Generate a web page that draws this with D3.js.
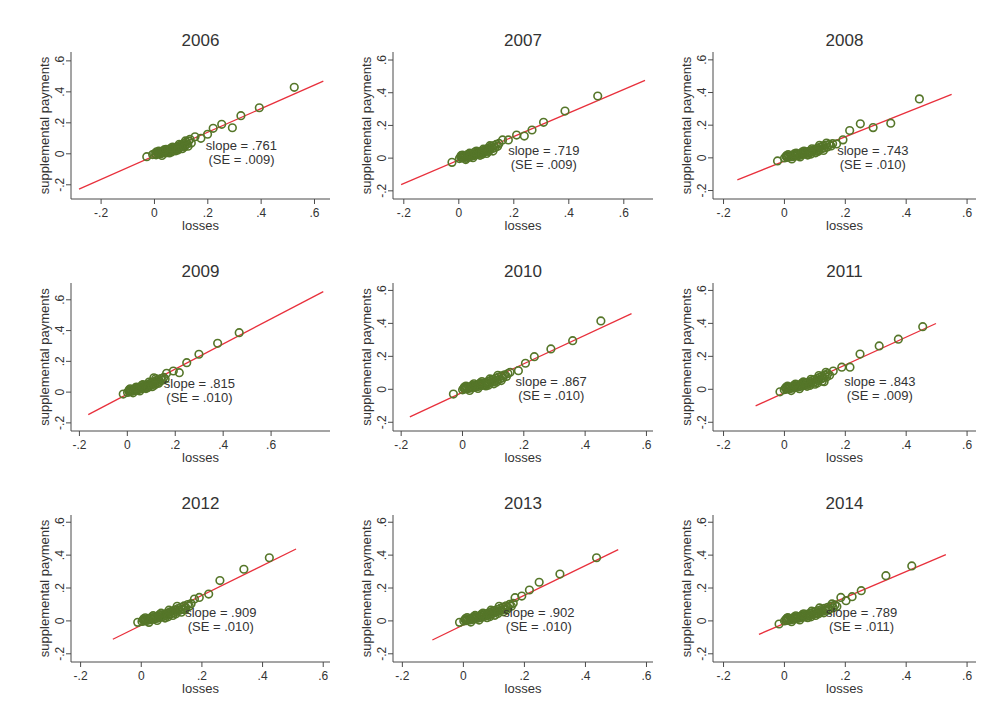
<!DOCTYPE html>
<html>
<head>
<meta charset="utf-8">
<script src="https://cdn.jsdelivr.net/npm/d3@7"></script>
<style>
  html, body { margin: 0; padding: 0; background: #ffffff; }
  svg { display: block; font-family: "Liberation Sans", Arial, sans-serif; }
</style>
</head>
<body>
<svg id="chart" width="995" height="723"></svg>
<script>
// Supplemental payments vs. losses, one panel per year, with fitted line.
const years = ["2006", "2007", "2008", "2009", "2010", "2011", "2012", "2013", "2014"];
const slopes = [0.761, 0.719, 0.743, 0.815, 0.867, 0.843, 0.909, 0.902, 0.789];
const slopeLabels = [".761", ".719", ".743", ".815", ".867", ".843", ".909", ".902", ".789"];
const seLabels = [".009", ".009", ".010", ".010", ".010", ".009", ".010", ".010", ".011"];
const intercepts = [-0.017, -0.016, -0.024, -0.018, -0.023, -0.025, -0.031, -0.029, -0.020];
// x extent of each fitted line
const fitRanges = [[-0.281, 0.635], [-0.208, 0.679], [-0.153, 0.551], [-0.161, 0.820], [-0.170, 0.553],
                   [-0.093, 0.4995], [-0.092, 0.512], [-0.100, 0.509], [-0.082, 0.532]];
// axis ranges per panel
const xDomains = [[-0.311, 0.660], [-0.2375, 0.708], [-0.233, 0.631], [-0.233, 0.848], [-0.225, 0.623],
                  [-0.233, 0.631], [-0.230, 0.624], [-0.229, 0.623], [-0.233, 0.631]];
const yDomains = [[-0.295, 0.654], [-0.253, 0.646], [-0.255, 0.645], [-0.256, 0.706], [-0.256, 0.642],
                  [-0.256, 0.642], [-0.253, 0.641], [-0.253, 0.641], [-0.253, 0.641]];
// where the slope note sits, in data units
const notePos = [[0.328, 0.021], [0.311, 0.016], [0.292, 0.015], [0.303, 0.021], [0.291, 0.017],
                 [0.315, 0.017], [0.264, 0.019], [0.249, 0.019], [0.255, 0.019]];

const tickValues = [-0.2, 0, 0.2, 0.4, 0.6];
const tickLabels = ["-.2", "0", ".2", ".4", ".6"];

// observations (losses, supplemental payments)
const points2006 = [[-0.027,-0.022],[-0.005,-0.008],[0.003,-0.002],[0.008,-0.010],[0.012,0.003],[0.016,-0.004],[0.019,0.006],[0.022,0.001],[0.026,-0.003],[0.029,0.009],[0.033,0.004],[0.036,0.013],[0.040,0.007],[0.043,0.002],[0.046,0.015],[0.050,0.010],[0.053,0.020],[0.056,0.013],[0.060,0.024],[0.063,0.017],[0.066,0.009],[0.069,0.028],[0.072,0.021],[0.076,0.032],[0.079,0.025],[0.083,0.038],[0.086,0.029],[0.089,0.044],[0.093,0.035],[0.097,0.050],[0.100,0.040],[0.104,0.057],[0.108,0.047],[0.112,0.063],[0.117,0.053],[0.121,0.072],[0.125,0.060],[0.130,0.080],[0.135,0.090],[0.140,0.066],
  [0.018,0.014],[0.030,-0.014],[0.045,0.026],[0.058,0.002],[0.070,0.040],[0.082,0.016],[0.095,0.058],[0.106,0.030],[0.118,0.080],[0.128,0.046],[0.010,0.010],[0.038,0.022],[0.064,0.034],[0.090,0.022],[0.114,0.040],
  [0.154,0.107],[0.176,0.097],[0.201,0.123],[0.222,0.161],[0.254,0.187],[0.294,0.165],[0.326,0.243],[0.395,0.294],[0.526,0.426]];
const points2007 = [[-0.023,-0.029],[0.004,-0.006],[0.009,0.004],[0.013,-0.002],[0.017,0.007],[0.021,0.001],[0.025,0.010],[0.028,-0.004],[0.032,0.006],[0.036,0.013],[0.039,0.003],[0.043,0.016],[0.047,0.009],[0.050,0.019],[0.054,0.012],[0.058,0.022],[0.061,0.015],[0.065,0.027],[0.069,0.019],[0.072,0.031],[0.076,0.024],[0.080,0.036],[0.084,0.028],[0.088,0.042],[0.092,0.033],[0.096,0.047],[0.100,0.038],[0.104,0.054],[0.108,0.044],[0.112,0.060],[0.116,0.050],[0.120,0.067],[0.125,0.056],[0.129,0.074],[0.134,0.062],[0.138,0.081],[0.143,0.069],[0.148,0.087],
  [0.015,0.016],[0.027,-0.012],[0.041,0.027],[0.053,0.000],[0.066,0.040],[0.079,0.014],[0.091,0.052],[0.103,0.026],[0.115,0.073],[0.126,0.040],[0.010,0.012],[0.035,0.020],[0.060,0.034],[0.087,0.020],[0.110,0.038],
  [0.161,0.108],[0.182,0.108],[0.212,0.138],[0.240,0.132],[0.268,0.169],[0.310,0.216],[0.388,0.285],[0.507,0.377]];
const points2008 = [[-0.021,-0.022],[0.002,-0.004],[0.007,0.005],[0.011,0.000],[0.015,0.008],[0.019,0.002],[0.023,0.011],[0.027,0.004],[0.031,0.014],[0.035,0.007],[0.039,0.016],[0.043,0.010],[0.047,0.019],[0.051,0.012],[0.055,0.023],[0.059,0.016],[0.063,0.027],[0.067,0.020],[0.071,0.031],[0.075,0.024],[0.079,0.035],[0.083,0.028],[0.087,0.040],[0.091,0.032],[0.095,0.045],[0.099,0.037],[0.103,0.050],[0.107,0.041],[0.111,0.056],[0.115,0.047],[0.119,0.063],[0.124,0.052],[0.128,0.069],[0.133,0.058],[0.138,0.075],[0.143,0.063],[0.149,0.079],[0.155,0.070],[0.160,0.084],
  [0.014,0.017],[0.026,-0.010],[0.040,0.026],[0.053,0.002],[0.066,0.038],[0.078,0.014],[0.092,0.052],[0.104,0.028],[0.117,0.074],[0.130,0.042],[0.009,0.011],[0.034,0.021],[0.061,0.034],[0.089,0.020],[0.112,0.036],[0.140,0.088],
  [0.173,0.082],[0.194,0.107],[0.216,0.164],[0.251,0.205],[0.293,0.182],[0.351,0.209],[0.445,0.358]];
const points2009 = [[-0.015,-0.016],[0.003,-0.005],[0.008,0.004],[0.012,-0.001],[0.016,0.008],[0.020,0.002],[0.024,0.012],[0.028,0.005],[0.032,0.015],[0.036,0.008],[0.040,0.019],[0.044,0.011],[0.048,0.023],[0.052,0.015],[0.056,0.027],[0.060,0.019],[0.064,0.031],[0.068,0.023],[0.072,0.036],[0.076,0.027],[0.080,0.041],[0.084,0.032],[0.088,0.046],[0.092,0.037],[0.096,0.052],[0.100,0.042],[0.104,0.058],[0.108,0.048],[0.113,0.090],[0.113,0.064],[0.118,0.053],[0.122,0.071],[0.127,0.060],[0.132,0.078],[0.137,0.067],[0.142,0.085],[0.148,0.074],[0.154,0.092],[0.160,0.082],
  [0.014,0.018],[0.026,-0.008],[0.040,0.030],[0.054,0.004],[0.067,0.045],[0.080,0.020],[0.093,0.062],[0.106,0.032],[0.120,0.084],[0.133,0.054],[0.010,0.012],[0.036,0.024],[0.062,0.040],[0.088,0.026],[0.115,0.042],
  [0.166,0.119],[0.194,0.134],[0.219,0.123],[0.250,0.188],[0.301,0.243],[0.379,0.314],[0.469,0.383]];
const points2010 = [[-0.028,-0.032],[0.002,-0.006],[0.006,0.004],[0.010,-0.001],[0.014,0.007],[0.018,0.001],[0.022,0.010],[0.026,0.004],[0.030,0.013],[0.034,0.007],[0.038,0.017],[0.042,0.010],[0.046,0.021],[0.050,0.013],[0.054,0.025],[0.058,0.017],[0.062,0.029],[0.066,0.021],[0.070,0.034],[0.074,0.025],[0.078,0.039],[0.082,0.030],[0.086,0.045],[0.090,0.035],[0.094,0.051],[0.098,0.040],[0.102,0.057],[0.106,0.046],[0.110,0.064],[0.115,0.052],[0.119,0.071],[0.124,0.059],[0.129,0.078],[0.134,0.067],[0.139,0.085],[0.145,0.075],[0.150,0.093],
  [0.013,0.017],[0.025,-0.010],[0.039,0.030],[0.052,0.002],[0.065,0.044],[0.078,0.017],[0.091,0.060],[0.104,0.030],[0.117,0.082],[0.128,0.050],[0.008,0.011],[0.034,0.022],[0.060,0.036],[0.086,0.022],[0.112,0.040],
  [0.157,0.100],[0.184,0.110],[0.207,0.155],[0.236,0.195],[0.290,0.242],[0.361,0.292],[0.453,0.412]];
const points2011 = [[-0.013,-0.018],[0.001,-0.005],[0.005,0.003],[0.009,-0.002],[0.013,0.006],[0.017,0.000],[0.021,0.009],[0.025,0.003],[0.029,0.012],[0.033,0.006],[0.037,0.016],[0.041,0.009],[0.045,0.020],[0.049,0.012],[0.053,0.024],[0.057,0.016],[0.061,0.028],[0.065,0.020],[0.069,0.033],[0.073,0.024],[0.077,0.038],[0.081,0.029],[0.085,0.044],[0.089,0.034],[0.093,0.050],[0.097,0.039],[0.101,0.056],[0.105,0.045],[0.109,0.062],[0.113,0.051],[0.117,0.069],[0.121,0.058],[0.125,0.076],[0.129,0.065],[0.132,0.043],[0.134,0.084],[0.138,0.100],[0.140,0.072],[0.144,0.092],[0.150,0.082],
  [0.012,0.016],[0.024,-0.011],[0.038,0.029],[0.051,0.001],[0.064,0.042],[0.076,0.015],[0.089,0.058],[0.102,0.028],[0.115,0.080],[0.126,0.046],[0.007,0.010],[0.033,0.021],[0.059,0.034],[0.085,0.020],[0.110,0.036],
  [0.162,0.108],[0.190,0.131],[0.217,0.131],[0.250,0.211],[0.313,0.260],[0.376,0.301],[0.456,0.377]];
const points2012 = [[-0.010,-0.012],[0.004,-0.006],[0.008,0.003],[0.012,-0.003],[0.016,0.006],[0.020,0.000],[0.024,0.009],[0.028,0.003],[0.032,0.012],[0.036,0.006],[0.040,0.016],[0.044,0.009],[0.048,0.020],[0.052,0.012],[0.056,0.024],[0.060,0.016],[0.064,0.029],[0.068,0.020],[0.072,0.034],[0.076,0.025],[0.080,0.039],[0.084,0.030],[0.088,0.045],[0.092,0.035],[0.096,0.051],[0.100,0.041],[0.104,0.057],[0.108,0.047],[0.113,0.064],[0.118,0.054],[0.123,0.072],[0.128,0.061],[0.133,0.080],[0.138,0.069],[0.143,0.088],[0.149,0.077],[0.155,0.096],[0.160,0.086],[0.166,0.102],
  [0.015,0.016],[0.027,-0.012],[0.041,0.029],[0.054,0.000],[0.067,0.044],[0.080,0.014],[0.093,0.062],[0.106,0.030],[0.120,0.086],[0.134,0.050],[0.010,0.010],[0.037,0.022],[0.062,0.036],[0.090,0.022],[0.116,0.040],[0.146,0.064],
  [0.177,0.130],[0.193,0.140],[0.224,0.160],[0.261,0.242],[0.340,0.311],[0.424,0.381]];
const points2013 = [[-0.011,-0.012],[0.003,-0.004],[0.007,0.004],[0.011,-0.001],[0.015,0.007],[0.019,0.001],[0.023,0.011],[0.027,0.004],[0.031,0.014],[0.035,0.007],[0.039,0.018],[0.043,0.011],[0.047,0.022],[0.051,0.014],[0.055,0.026],[0.059,0.018],[0.063,0.031],[0.067,0.022],[0.071,0.036],[0.075,0.027],[0.079,0.041],[0.083,0.032],[0.087,0.047],[0.091,0.037],[0.095,0.053],[0.099,0.043],[0.103,0.059],[0.107,0.049],[0.112,0.066],[0.117,0.055],[0.122,0.073],[0.127,0.062],[0.132,0.081],[0.137,0.070],[0.142,0.089],[0.148,0.078],[0.153,0.097],[0.159,0.086],[0.165,0.104],
  [0.014,0.017],[0.026,-0.010],[0.040,0.030],[0.053,0.002],[0.066,0.045],[0.079,0.016],[0.092,0.062],[0.105,0.031],[0.119,0.086],[0.133,0.052],[0.009,0.011],[0.036,0.023],[0.061,0.037],[0.089,0.023],[0.115,0.042],[0.145,0.066],
  [0.171,0.138],[0.193,0.148],[0.218,0.185],[0.250,0.232],[0.318,0.282],[0.438,0.381]];
const points2014 = [[-0.016,-0.022],[0.002,-0.003],[0.007,0.005],[0.011,0.000],[0.015,0.008],[0.019,0.002],[0.023,0.011],[0.027,0.005],[0.031,0.014],[0.035,0.008],[0.039,0.018],[0.043,0.011],[0.047,0.021],[0.051,0.014],[0.055,0.025],[0.059,0.018],[0.063,0.029],[0.067,0.021],[0.071,0.033],[0.075,0.025],[0.079,0.038],[0.083,0.029],[0.087,0.043],[0.091,0.034],[0.095,0.048],[0.099,0.039],[0.103,0.054],[0.108,0.044],[0.113,0.060],[0.118,0.050],[0.123,0.066],[0.128,0.056],[0.133,0.073],[0.138,0.062],[0.144,0.080],[0.150,0.069],[0.156,0.087],[0.162,0.077],[0.168,0.094],[0.174,0.085],
  [0.013,0.017],[0.025,-0.008],[0.039,0.028],[0.052,0.003],[0.065,0.040],[0.078,0.016],[0.091,0.056],[0.104,0.030],[0.117,0.076],[0.131,0.046],[0.009,0.012],[0.035,0.022],[0.061,0.035],[0.089,0.022],[0.114,0.040],[0.146,0.062],[0.158,0.100],
  [0.187,0.140],[0.204,0.120],[0.224,0.144],[0.254,0.181],[0.335,0.272],[0.420,0.331]];
const pointSets = [points2006, points2007, points2008, points2009, points2010, points2011, points2012, points2013, points2014];

// panel frames: plot-area edges per column and per row
const colEdges = [[71, 330], [393, 653], [713, 976]];
const rowEdges = [[52, 199], [283, 431], [515, 662]];

const svg = d3.select("#chart");
svg.append("rect").attr("width", 995).attr("height", 723).attr("fill", "#ffffff");

const axisColor = "#4a4a4a";
const textColor = "#333333";
const markerColor = "#557629";
const lineColor = "#e8303c";

years.forEach((year, i) => {
  const [left, right] = colEdges[i % 3];
  const [top, bottom] = rowEdges[Math.floor(i / 3)];
  const x = d3.scaleLinear().domain(xDomains[i]).range([left, right]);
  const y = d3.scaleLinear().domain(yDomains[i]).range([bottom, top]);
  const g = svg.append("g");

  // title
  g.append("text")
    .attr("x", (left + right) / 2).attr("y", top - 6)
    .attr("text-anchor", "middle")
    .attr("font-size", 17).attr("fill", textColor)
    .text(year);

  // x axis
  const xAxis = d3.axisBottom(x).tickValues(tickValues)
    .tickFormat((d, k) => tickLabels[k]).tickSize(5).tickPadding(4).tickSizeOuter(0);
  const gx = g.append("g").attr("transform", `translate(0,${bottom})`).call(xAxis);
  gx.select(".domain").attr("stroke", axisColor).attr("d", `M${left},0H${right}`);
  gx.selectAll(".tick line").attr("stroke", axisColor);
  gx.selectAll(".tick text").attr("fill", textColor).attr("font-size", 12)
    .attr("font-family", "Liberation Sans, Arial, sans-serif");

  // y axis, labels turned upright along the axis
  const yAxis = d3.axisLeft(y).tickValues(tickValues)
    .tickFormat((d, k) => tickLabels[k]).tickSize(5).tickSizeOuter(0);
  const gy = g.append("g").attr("transform", `translate(${left},0)`).call(yAxis);
  gy.select(".domain").attr("stroke", axisColor).attr("d", `M0,${top}V${bottom}`);
  gy.selectAll(".tick line").attr("stroke", axisColor);
  gy.selectAll(".tick text")
    .attr("fill", textColor).attr("font-size", 12)
    .attr("font-family", "Liberation Sans, Arial, sans-serif")
    .attr("x", null).attr("dy", null)
    .attr("text-anchor", "middle")
    .attr("transform", "translate(-7.5,0) rotate(-90)");

  // axis titles
  g.append("text")
    .attr("x", (left + right) / 2).attr("y", bottom + 31)
    .attr("text-anchor", "middle").attr("font-size", 13).attr("fill", textColor)
    .text("losses");
  g.append("text")
    .attr("transform", `translate(${left - 22},${(top + bottom) / 2}) rotate(-90)`)
    .attr("text-anchor", "middle").attr("font-size", 13).attr("fill", textColor)
    .text("supplemental payments");

  // fitted line
  const fit = fitRanges[i].map(v => [v, intercepts[i] + slopes[i] * v]);
  g.append("path")
    .datum(fit)
    .attr("d", d3.line().x(d => x(d[0])).y(d => y(d[1])))
    .attr("fill", "none").attr("stroke", lineColor).attr("stroke-width", 1.3);

  // observations
  g.append("g").selectAll("circle")
    .data(pointSets[i])
    .join("circle")
    .attr("cx", d => x(d[0])).attr("cy", d => y(d[1]))
    .attr("r", 3.8)
    .attr("fill", "none")
    .attr("stroke", markerColor).attr("stroke-width", 1.6);

  // slope note
  const nx = x(notePos[i][0]), ny = y(notePos[i][1]);
  g.append("text")
    .attr("x", nx).attr("y", ny)
    .attr("text-anchor", "middle").attr("font-size", 13).attr("fill", textColor)
    .text(`slope = ${slopeLabels[i]}`);
  g.append("text")
    .attr("x", nx).attr("y", ny + 14)
    .attr("text-anchor", "middle").attr("font-size", 13).attr("fill", textColor)
    .text(`(SE = ${seLabels[i]})`);
});
</script>
</body>
</html>
